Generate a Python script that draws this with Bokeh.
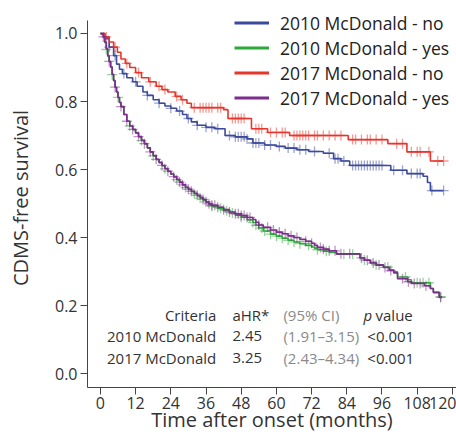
import numpy as np
from bokeh.plotting import figure
from bokeh.models import Legend, LegendItem, Label, Range1d, FixedTicker, NumeralTickFormatter
from bokeh.embed import file_html
from bokeh.resources import INLINE

# ---------------- data ----------------
x_ticks = [0, 12, 24, 36, 48, 60, 72, 84, 96, 108, 120]
y_ticks = [0.0, 0.2, 0.4, 0.6, 0.8, 1.0]

series_names = ["2010 McDonald - no", "2010 McDonald - yes", "2017 McDonald - no", "2017 McDonald - yes"]

no2010_t = [0, 1.5, 3, 4.5, 5.5, 6.5, 7.5, 9, 11, 12.5, 14.5, 16, 18, 20, 22, 24, 26, 28, 29.5, 31, 33, 36,
            39, 42.5, 46, 50, 52, 56, 60, 63, 67, 71, 76, 79.5, 82, 85, 99, 104.5, 110, 111.5, 112.5]
no2010_s = [1.0, 0.985, 0.96, 0.935, 0.91, 0.895, 0.882, 0.87, 0.858, 0.845, 0.828, 0.818, 0.805, 0.795, 0.787,
            0.78, 0.772, 0.762, 0.75, 0.74, 0.73, 0.724, 0.72, 0.70, 0.696, 0.69, 0.678, 0.672, 0.668, 0.663,
            0.658, 0.653, 0.648, 0.632, 0.625, 0.612, 0.598, 0.588, 0.58, 0.562, 0.538]
no2010_end = 117
no2010_cens = [3, 5, 8, 12, 16, 20, 24, 27, 30, 33, 36, 38, 40, 44, 46, 47, 48, 49, 50, 52, 53, 54, 56, 58, 61,
               64, 66, 68, 70, 73, 78, 80, 81, 83, 86, 87, 88, 89, 90, 91, 92, 93, 94, 95, 96, 100, 103, 106,
               108, 109, 113, 117]

yes2010_t = [0, 0.5, 1, 1.5, 2, 2.5, 3, 3.5, 4, 4.5, 5, 5.5, 6, 6.5, 7, 8, 9, 10, 11, 12, 13, 14, 15, 16, 17, 18,
             19, 20, 21, 22, 23, 24, 25, 26, 27, 28, 29, 30, 31, 32, 33, 34, 35, 36, 37, 38, 40, 42, 44, 46, 48,
             50, 52, 53, 54, 55.5, 58, 60, 62, 64, 66, 68, 70, 72, 73, 74, 76, 78, 80.5, 88.5, 90, 92, 94, 96.5,
             98.5, 100, 101.3, 104.7, 106, 112.5, 113.5, 115.5]
yes2010_s = [1.0, 0.997, 0.988, 0.973, 0.953, 0.933, 0.916, 0.9, 0.879, 0.861, 0.842, 0.828, 0.812, 0.797, 0.785,
             0.762, 0.742, 0.728, 0.717, 0.707, 0.696, 0.685, 0.675, 0.663, 0.651, 0.640, 0.629, 0.620, 0.611,
             0.602, 0.594, 0.586, 0.578, 0.570, 0.562, 0.554, 0.547, 0.541, 0.535, 0.529, 0.522, 0.516, 0.510,
             0.503, 0.497, 0.492, 0.486, 0.479, 0.472, 0.466, 0.460, 0.452, 0.444, 0.436, 0.428, 0.419, 0.410,
             0.404, 0.398, 0.392, 0.387, 0.382, 0.377, 0.372, 0.368, 0.364, 0.360, 0.356, 0.351, 0.340, 0.334,
             0.327, 0.320, 0.313, 0.305, 0.299, 0.284, 0.276, 0.267, 0.250, 0.240, 0.226]
yes2010_end = 116.5
yes2010_cens = [2, 4, 6, 10, 14, 18, 22, 26, 29, 32, 34, 38, 41, 43, 45, 48, 52, 53, 55, 56, 58, 60, 62, 64, 66,
                68, 71, 74, 77, 83, 86, 90, 94, 98, 104, 108, 110, 112, 116]

no2017_t = [0, 1.5, 3, 4.5, 5.8, 7, 8.5, 10, 12, 14, 16.5, 19, 21, 23, 25.5, 27.5, 29.5, 31, 42, 43.5, 51.5,
            57, 64.5, 84.5, 98, 104.5, 112.5]
no2017_s = [1.0, 0.99, 0.975, 0.96, 0.945, 0.925, 0.912, 0.9, 0.885, 0.87, 0.858, 0.845, 0.835, 0.828, 0.815,
            0.805, 0.795, 0.782, 0.776, 0.75, 0.72, 0.709, 0.70, 0.688, 0.676, 0.652, 0.625]
no2017_end = 117
no2017_cens = [2, 5, 9, 13, 17, 20, 22, 26, 28, 32, 34, 35, 36, 37, 38, 40, 41, 45, 46, 47, 48, 49, 53, 54, 55,
               58, 60, 62, 63, 66, 67, 68, 69, 70, 71, 73, 74, 76, 78, 80, 82, 86, 87, 89, 91, 92, 94, 96, 101,
               103, 106, 108, 109, 112, 115, 117]

yes2017_t = [0, 0.5, 1, 1.5, 2, 2.5, 3, 3.5, 4, 4.5, 5, 5.5, 6, 6.5, 7, 8, 9, 10, 11, 12, 13, 14, 15, 16, 17, 18,
             19, 20, 21, 22, 23, 24, 25, 26, 27, 28, 29, 30, 31, 32, 33, 34, 35, 36, 37, 38, 40, 42, 44, 46, 48,
             50, 52, 53, 54, 55.5, 58, 60, 62, 64, 66, 68, 70, 72, 73, 74, 76, 78, 80.5, 88.5, 90, 92, 94, 96.5,
             98.5, 100, 101.3, 104.7, 106, 110.5, 112.5, 113.5, 115.5]
yes2017_s = [1.0, 0.998, 0.99, 0.975, 0.955, 0.935, 0.918, 0.902, 0.88, 0.862, 0.842, 0.828, 0.812, 0.797, 0.785,
             0.762, 0.742, 0.728, 0.718, 0.708, 0.697, 0.686, 0.676, 0.664, 0.652, 0.641, 0.630, 0.621, 0.612,
             0.603, 0.595, 0.587, 0.579, 0.571, 0.563, 0.555, 0.548, 0.542, 0.536, 0.530, 0.524, 0.518, 0.512,
             0.505, 0.499, 0.495, 0.489, 0.482, 0.475, 0.470, 0.465, 0.459, 0.453, 0.445, 0.437, 0.430, 0.422,
             0.416, 0.411, 0.405, 0.400, 0.395, 0.389, 0.383, 0.377, 0.371, 0.366, 0.361, 0.352, 0.340, 0.333,
             0.325, 0.319, 0.312, 0.303, 0.296, 0.279, 0.270, 0.265, 0.258, 0.250, 0.238, 0.224]
yes2017_end = 116.5
yes2017_cens = [1, 3, 5, 7, 9, 11, 13, 15, 17, 19, 21, 23, 25, 27, 28, 30, 31, 33, 35, 36, 37, 38, 39, 40, 42,
                44, 46, 47, 48, 49, 50, 51, 54, 57, 59, 61, 63, 65, 67, 70, 72, 75, 76, 78, 80, 82, 85, 89, 91,
                93, 95, 97, 99, 103, 105, 107, 109, 111, 116]

table_header = ["Criteria", "aHR*", "(95% CI)", "p", "value"]
table_criteria = ["2010 McDonald", "2017 McDonald"]
table_ahr = ["2.45", "3.25"]
table_ci = ["(1.91\u20133.15)", "(2.43\u20134.34)"]
table_p = ["<0.001", "<0.001"]

colors = ["#3B4A9C", "#2FA83A", "#E8352B", "#7D2D8E"]

# ---------------- figure ----------------
FONT = "Open Sans"
TXT = "#333333"
Y_LO, Y_AXIS_TOP, Y_FRAME_TOP = -0.041, 1.038, 1.0735

p = figure(width=456, height=445, output_backend="svg", toolbar_location=None,
           x_range=Range1d(-4.4, 121.4), y_range=Range1d(Y_LO, Y_FRAME_TOP),
           min_border_left=87, min_border_right=0, min_border_top=8, min_border_bottom=58)
p.outline_line_color = None
p.xgrid.visible = False
p.ygrid.visible = False
p.background_fill_color = "white"
p.border_fill_color = "white"

for ax in (p.xaxis[0], p.yaxis[0]):
    ax.axis_line_color = "#444444"
    ax.major_tick_line_color = "#444444"
    ax.major_tick_out = 7
    ax.major_tick_in = 0
    ax.minor_tick_line_color = None
    ax.major_label_text_font = FONT
    ax.major_label_text_font_size = "16px"
    ax.major_label_text_color = TXT
    ax.axis_label_text_font = FONT
    ax.axis_label_text_font_size = "20px"
    ax.axis_label_text_font_style = "normal"
    ax.axis_label_text_color = TXT

p.yaxis.bounds = (Y_LO, Y_AXIS_TOP)
p.xaxis.ticker = FixedTicker(ticks=x_ticks)
p.yaxis.ticker = FixedTicker(ticks=y_ticks)
p.yaxis.formatter = NumeralTickFormatter(format="0.0")
p.xaxis.axis_label = "Time after onset (months)"
p.yaxis.axis_label = "CDMS-free survival"
p.xaxis.major_label_standoff = 2
p.xaxis.axis_label_standoff = -6
p.yaxis.major_label_standoff = 3
p.yaxis.axis_label_standoff = 18

curves = [
    (no2010_t, no2010_s, no2010_end, no2010_cens),
    (yes2010_t, yes2010_s, yes2010_end, yes2010_cens),
    (no2017_t, no2017_s, no2017_end, no2017_cens),
    (yes2017_t, yes2017_s, yes2017_end, yes2017_cens),
]

legend_items = []
for (t, s, end, cens), col, name in zip(curves, colors, series_names):
    xs = list(t) + [end]
    ys = list(s) + [s[-1]]
    p.step(x=xs, y=ys, mode="after", line_color=col, line_width=1.6)
    ta = np.array(t)
    sa = np.array(s)
    idx = np.searchsorted(ta, np.array(cens), side="right") - 1
    p.scatter(x=cens, y=sa[idx], marker="cross", size=10, line_color=col, line_alpha=0.5, line_width=1.3)
    # legend sample line kept outside the visible range
    dummy = p.line(x=[-200, -190], y=[-5, -5], line_color=col, line_width=3)
    legend_items.append(LegendItem(label=name, renderers=[dummy]))

legend = Legend(items=legend_items, location=(147, 277), padding=0, margin=0, spacing=0,
                label_height=25, glyph_height=25, glyph_width=35, label_standoff=11,
                border_line_color=None, background_fill_alpha=0,
                label_text_font=FONT, label_text_font_size="17.5px", label_text_color="#222222")
p.add_layout(legend, "center")

# ---------------- table ----------------
row_y = [0.171, 0.109, 0.047]
col_x = [39.5, 45.0, 62.4, 89.7, 93.8, 91.0]

def lab(x, y, text, align="left", color=TXT, style="normal"):
    p.add_layout(Label(x=x, y=y, text=text, text_align=align, text_baseline="middle",
                       text_font=FONT, text_font_size="15px", text_color=color, text_font_style=style))

lab(col_x[0], row_y[0], table_header[0], align="right")
lab(col_x[1], row_y[0], table_header[1])
lab(col_x[2], row_y[0], table_header[2], color="#8a8a8a")
lab(col_x[3], row_y[0], table_header[3], style="italic")
lab(col_x[4], row_y[0], table_header[4])
for i in range(2):
    lab(col_x[0], row_y[i + 1], table_criteria[i], align="right")
    lab(col_x[1], row_y[i + 1], table_ahr[i])
    lab(col_x[2], row_y[i + 1], table_ci[i], color="#8a8a8a")
    lab(col_x[5], row_y[i + 1], table_p[i])

open("out.html", "w").write(file_html(p, INLINE))
